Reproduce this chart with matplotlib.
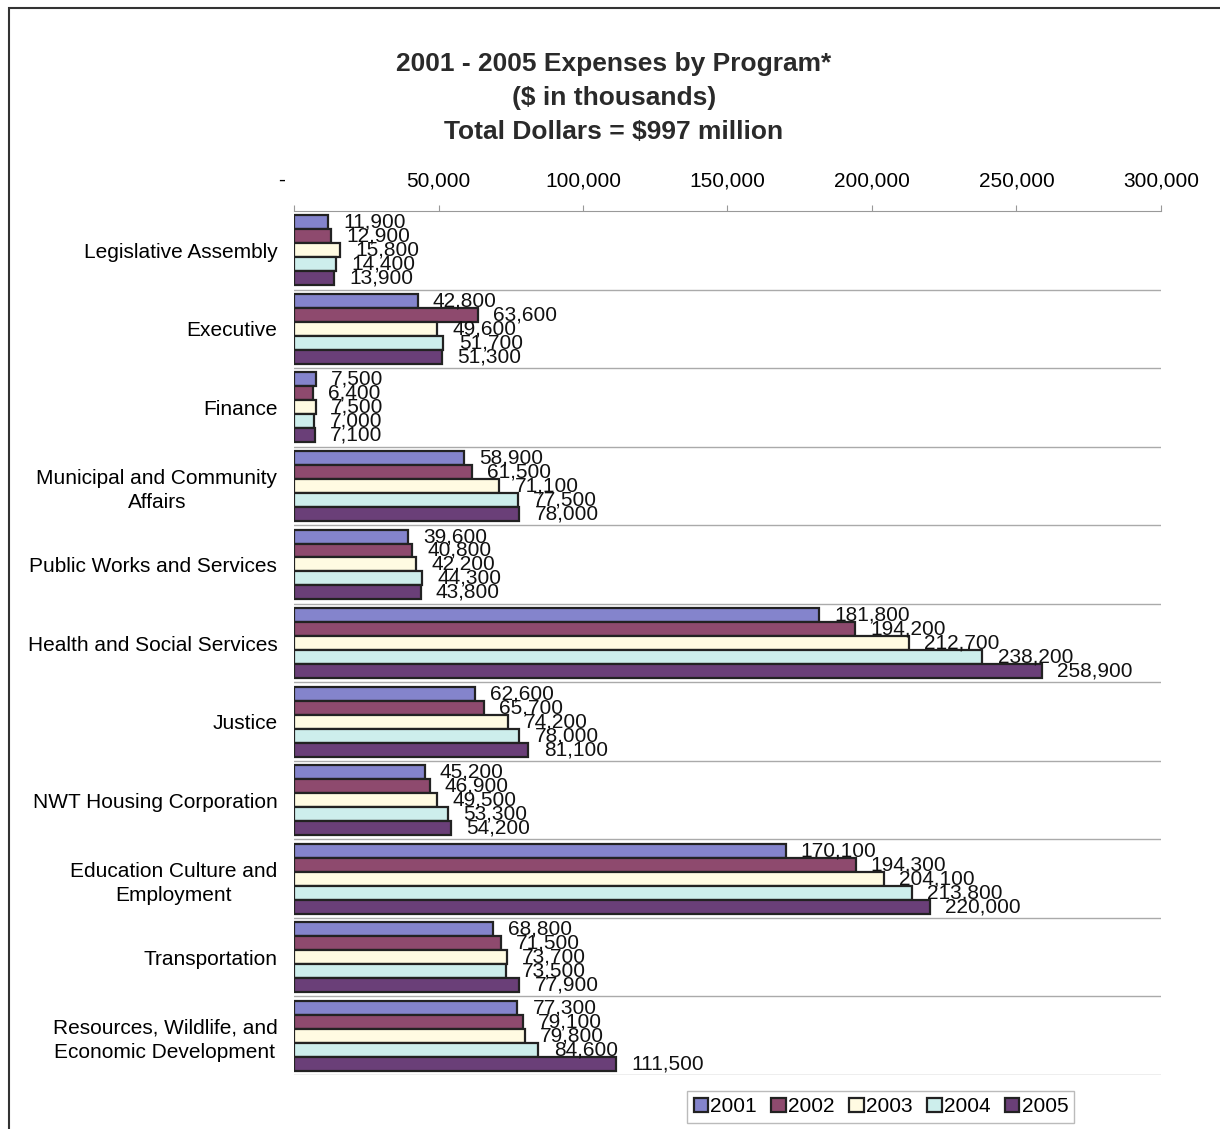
import matplotlib
matplotlib.use("Agg")
import matplotlib.pyplot as plt
import matplotlib.ticker as mticker
from matplotlib.patches import Rectangle
import numpy as np

plt.rcParams['font.family'] = ['Liberation Sans', 'DejaVu Sans']

programs = [
    "Legislative Assembly",
    "Executive",
    "Finance",
    "Municipal and Community\nAffairs",
    "Public Works and Services",
    "Health and Social Services",
    "Justice",
    "NWT Housing Corporation",
    "Education Culture and\nEmployment",
    "Transportation",
    "Resources, Wildlife, and\nEconomic Development",
]
years = ["2001", "2002", "2003", "2004", "2005"]

exp_2001 = [11900, 42800, 7500, 58900, 39600, 181800, 62600, 45200, 170100, 68800, 77300]
exp_2002 = [12900, 63600, 6400, 61500, 40800, 194200, 65700, 46900, 194300, 71500, 79100]
exp_2003 = [15800, 49600, 7500, 71100, 42200, 212700, 74200, 49500, 204100, 73700, 79800]
exp_2004 = [14400, 51700, 7000, 77500, 44300, 238200, 78000, 53300, 213800, 73500, 84600]
exp_2005 = [13900, 51300, 7100, 78000, 43800, 258900, 81100, 54200, 220000, 77900, 111500]
series = [exp_2001, exp_2002, exp_2003, exp_2004, exp_2005]

colors = ["#8484cc", "#8e4a6e", "#fffbe2", "#cdeeec", "#6a3f78"]

fig = plt.figure(figsize=(12.2, 11.29), dpi=100)
ax = fig.add_axes([0.241, 0.0478, 0.7106, 0.7653])

n = len(programs)
bar_h = 0.178
y0 = np.arange(n)
for j, (vals, c) in enumerate(zip(series, colors)):
    ys = y0 - 0.445 + bar_h * (j + 0.5)
    ax.barh(ys, vals, height=bar_h, color=c, edgecolor="#222222",
            linewidth=1.6, label=years[j], zorder=3)
    for y, v in zip(ys, vals):
        ax.annotate(f"{v:,}", (v, y), xytext=(11, 0), textcoords="offset points",
                    ha="left", va="center", fontsize=15, color="#111111", zorder=4)

ax.set_xlim(0, 300000)
ax.set_ylim(n - 0.5, -0.5)

ax.xaxis.tick_top()
ax.xaxis.set_major_locator(mticker.MultipleLocator(50000))
ax.xaxis.set_major_formatter(mticker.FuncFormatter(lambda x, p: "-    " if x == 0 else f"{int(x):,}"))
ax.tick_params(axis="x", labelsize=15, length=4, color="#999999", pad=11)

ax.set_yticks(y0)
ax.set_yticklabels(programs, fontsize=15, multialignment="center", linespacing=1.35)
ax.tick_params(axis="y", length=0, pad=12)

# separators between programs
for b in np.arange(n) + 0.5:
    ax.axhline(b, color="#aaaaaa", linewidth=1, zorder=1)

for s in ["left", "right", "bottom"]:
    ax.spines[s].set_visible(False)
ax.spines["top"].set_color("#999999")

title_lines = ["2001 - 2005 Expenses by Program*", "($ in thousands)", "Total Dollars = $997 million"]
for k, line in enumerate(title_lines):
    fig.text(0.503, 0.943 - 0.030 * k, line, ha="center", va="center",
             fontsize=19, fontweight="bold", color="#2a2a2a")

leg = fig.legend(loc="center", bbox_to_anchor=(0.722, 0.0195), ncol=5, fontsize=15,
                 frameon=True, fancybox=False, edgecolor="#aaaaaa",
                 handlelength=0.7, handleheight=0.7, handletextpad=0.1,
                 columnspacing=0.7, borderpad=0.3)
leg.get_frame().set_linewidth(1)

# outer border
fig.add_artist(Rectangle((0.0074, -0.05), 1.1, 1.043, transform=fig.transFigure,
                         fill=False, edgecolor="#333333", linewidth=1.5))

fig.savefig("out.png", dpi=100)
